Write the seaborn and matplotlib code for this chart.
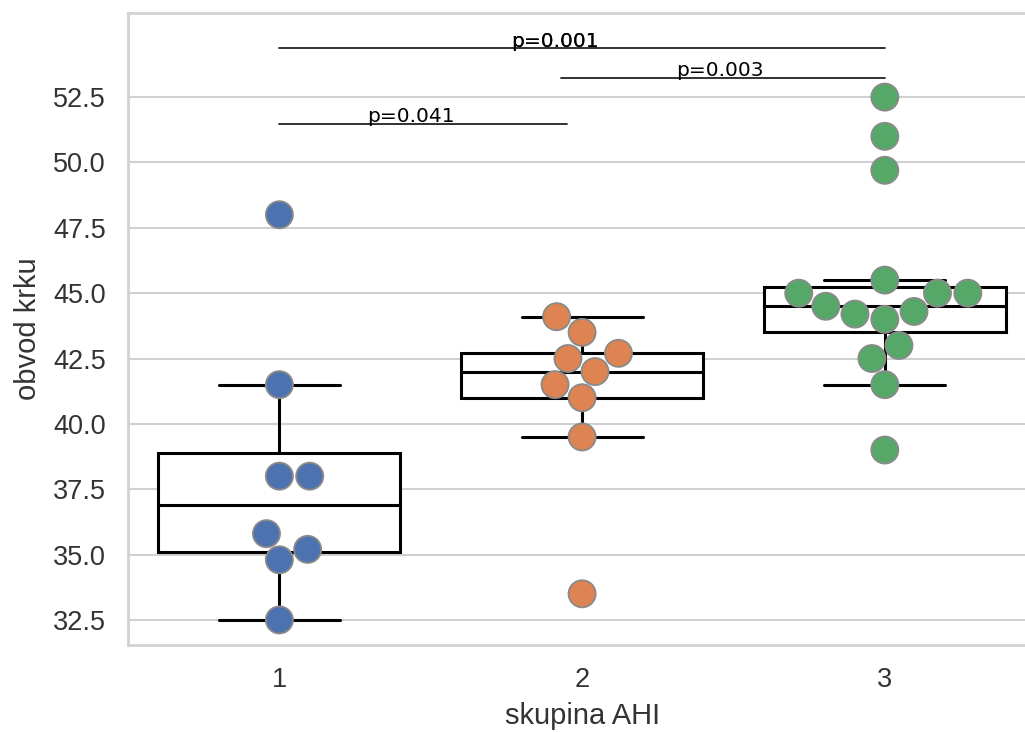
import pandas as pd
import matplotlib
matplotlib.use("Agg")
import matplotlib.pyplot as plt
import seaborn as sns

# values (neck circumference per AHI group)
group1 = [48.0, 41.5, 38.0, 38.0, 35.8, 35.2, 34.8, 32.5]
group2 = [44.1, 43.5, 42.7, 42.5, 42.0, 41.5, 41.0, 39.5, 33.5]
group3 = [52.5, 51.0, 49.7, 45.5, 45.0, 45.0, 45.0, 44.5, 44.3, 44.2, 44.0, 43.0, 42.5, 41.5, 39.0]
groups = ["1", "2", "3"]

# significance brackets: (x start, x end, y, label, label x)
p_labels = ["p=0.001", "p=0.003", "p=0.041"]
p_x0 = [0.0, 0.93, 0.0]
p_x1 = [2.0, 2.0, 0.95]
p_y = [54.36, 53.25, 51.49]
p_tx = [0.91, 1.456, 0.436]

df = pd.DataFrame({
    "skupina AHI": ["1"] * len(group1) + ["2"] * len(group2) + ["3"] * len(group3),
    "obvod krku": group1 + group2 + group3,
})

sns.set_theme(style="whitegrid")
plt.rcParams["font.family"] = ["Liberation Sans", "DejaVu Sans"]

fig = plt.figure(figsize=(10.25, 7.33), dpi=100)
ax = fig.add_axes([0.1249, 0.12, 0.886, 0.862])

sns.boxplot(data=df, x="skupina AHI", y="obvod krku", order=groups, color="white",
            linecolor="black", linewidth=2.2, showfliers=False, ax=ax)
sns.swarmplot(data=df, x="skupina AHI", y="obvod krku", order=groups, hue="skupina AHI",
              palette="deep", size=19.5, edgecolor="#8a8a8a", linewidth=1.3, legend=False, ax=ax)

for lab, a, b, y, tx in zip(p_labels, p_x0, p_x1, p_y, p_tx):
    ax.plot([a, b], [y, y], color="#222222", lw=1.3)
    ax.text(tx, y + 0.06, lab, ha="center", va="baseline", fontsize=14.5,
            family="DejaVu Sans", color="black")
# the top label looks darker in the reference (drawn twice)
ax.text(p_tx[0], p_y[0] + 0.06, p_labels[0], ha="center", va="baseline", fontsize=14.5,
        family="DejaVu Sans", color="black")

ax.set_xlim(-0.5, 2.5)
ax.set_ylim(31.54, 55.71)
ax.set_yticks([32.5, 35.0, 37.5, 40.0, 42.5, 45.0, 47.5, 50.0, 52.5])
ax.tick_params(axis="both", labelsize=19.5, colors=".2", pad=10)
ax.set_xlabel("skupina AHI", fontsize=21, color=".2", labelpad=6)
ax.set_ylabel("obvod krku", fontsize=21, color=".2", labelpad=8)
for s in ax.spines.values():
    s.set_color(".82")
    s.set_linewidth(2)
ax.grid(axis="y", color=".82", lw=1.5)
ax.grid(axis="x", visible=False)

fig.savefig("out.png", dpi=100)
